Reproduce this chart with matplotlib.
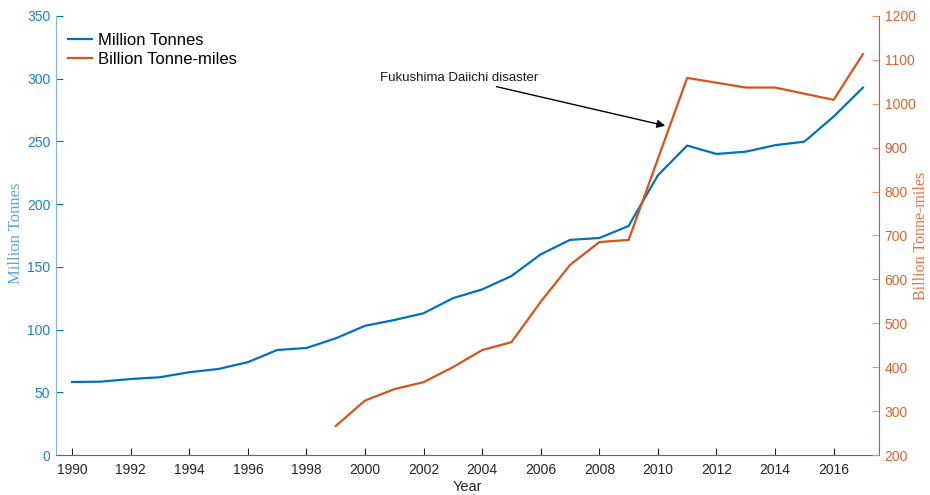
import numpy as np
import matplotlib.pyplot as plt

# LNG trade, volume and tonne-miles
years_mt = list(range(1990, 2018))
million_tonnes = [58.2, 58.5, 60.6, 62.0, 66.0, 68.6, 74.0, 83.7, 85.3, 93.0,
                  103.0, 107.6, 113.0, 125.0, 132.0, 142.7, 160.0, 171.5, 173.0, 182.6,
                  223.0, 246.7, 240.0, 241.8, 247.0, 249.8, 269.8, 292.9]

years_tm = [1999, 2000, 2001, 2002, 2003, 2004, 2005, 2006, 2007, 2008, 2009,
            2011, 2012, 2013, 2014, 2015, 2016, 2017]
billion_tonne_miles = [266, 324, 350, 366, 400, 439, 457, 549, 633, 685, 690,
                       1059, 1048, 1037, 1037, 1023, 1009, 1113]

blue = '#0072BD'
orange = '#D95319'
sans = ['Liberation Sans', 'DejaVu Sans']
serif = ['Liberation Serif', 'DejaVu Serif']

plt.rcParams['font.family'] = sans

fig = plt.figure(figsize=(9.3, 4.95), dpi=100)
ax = fig.add_axes([0.0602, 0.0808, 0.8850, 0.8869])
ax2 = ax.twinx()

l1, = ax.plot(years_mt, million_tonnes, color=blue, lw=1.6, label='Million Tonnes')
l2, = ax2.plot(years_tm, billion_tonne_miles, color=orange, lw=1.6, label='Billion Tonne-miles')

ax.set_xlim(1989.45, 2017.55)
ax.set_xticks(range(1990, 2017, 2))
ax.set_ylim(0, 350)
ax.set_yticks(range(0, 351, 50))
ax2.set_ylim(200, 1200)
ax2.set_yticks(range(200, 1201, 100))

for a in (ax, ax2):
    a.spines['top'].set_visible(False)
    a.tick_params(direction='in', length=5, width=0.8, labelsize=10)

ax.spines['left'].set_color('#7fb4dd')
ax.spines['right'].set_visible(False)
ax.spines['bottom'].set_color('#666666')
ax2.spines['left'].set_visible(False)
ax2.spines['bottom'].set_visible(False)
ax2.spines['right'].set_color(orange)

ax.tick_params(axis='x', colors='#262626', labelcolor='#262626', pad=6)
ax.tick_params(axis='y', colors=blue, labelcolor='#1a80c8', pad=4)
ax2.tick_params(axis='y', colors='#e8946f', labelcolor='#dd6230', pad=4)

ax.set_xlabel('Year', fontsize=10.5, color='#262626', labelpad=2)
ax.set_ylabel('Million Tonnes', fontsize=12, color='#5ea5dc', family=serif)
ax2.set_ylabel('Billion Tonne-miles', fontsize=11.5, color='#e8723f', family=serif,
               rotation=90)
ax.yaxis.set_label_coords(-0.039, 0.506)
ax2.yaxis.set_label_coords(1.0415, 0.50)

ax.legend(handles=[l1, l2], loc='upper left', frameon=False, fontsize=12,
          handlelength=1.4, handletextpad=0.35, labelspacing=0.25,
          borderaxespad=0.2, bbox_to_anchor=(0.003, 0.985))

ax2.annotate('Fukushima Daiichi disaster', xy=(2010.25, 950), xytext=(2005.9, 1059),
             ha='right', va='center', fontsize=9.5, color='#1a1a1a',
             arrowprops=dict(arrowstyle='-|>', color='black', lw=1.0,
                             mutation_scale=12, shrinkA=0, shrinkB=0))

fig.savefig('out.png', dpi=100)
